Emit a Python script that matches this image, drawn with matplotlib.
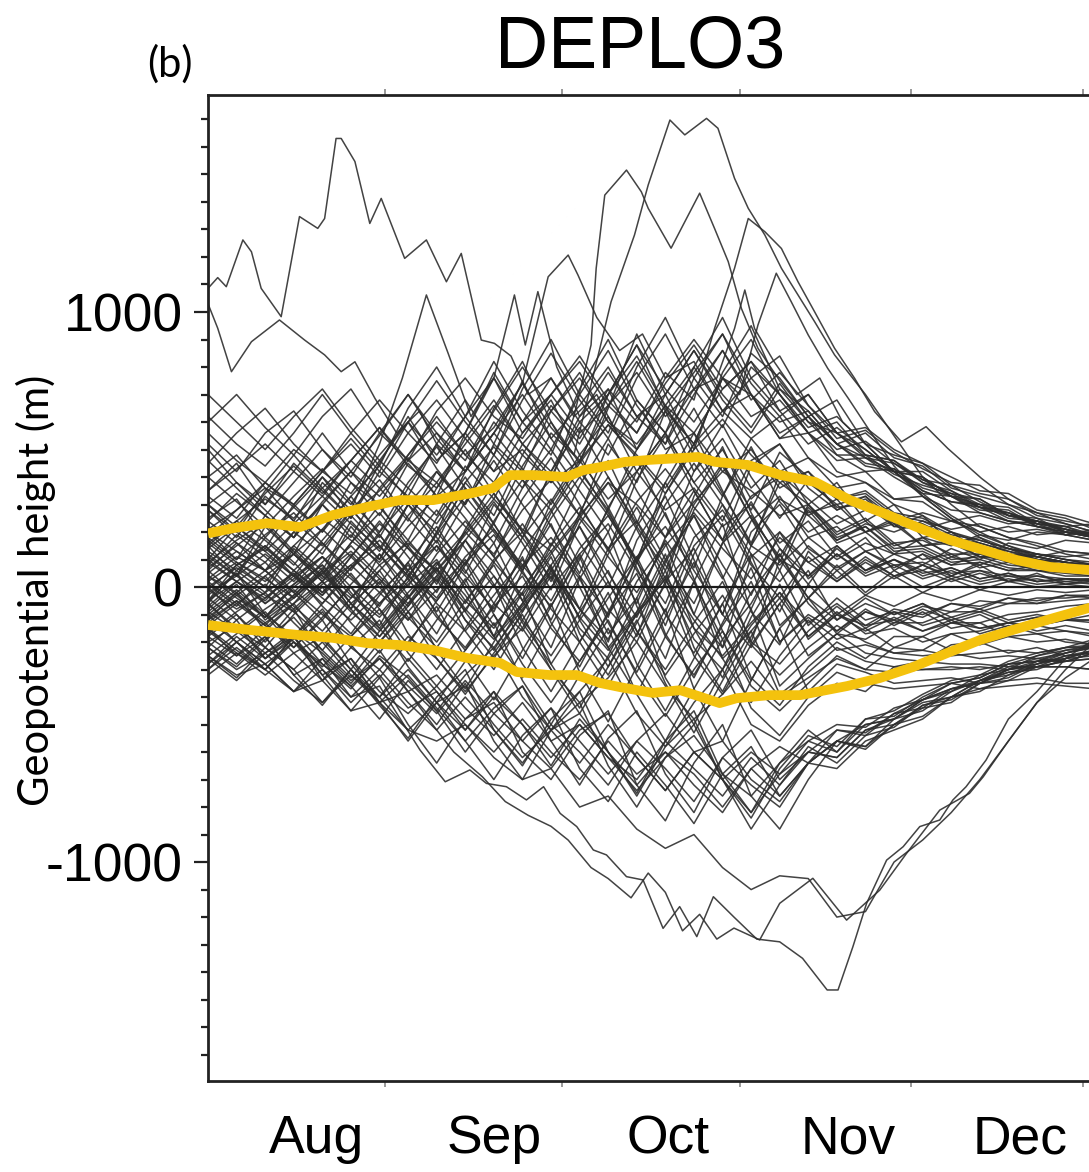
import matplotlib
matplotlib.use("Agg")
import matplotlib.pyplot as plt
from matplotlib.ticker import FixedLocator, NullFormatter

# days counted from 1 July; ensemble members sampled every 5 days
member_days = list(range(0, 161, 5))

members_a = [
    [120, 40, 180, 90, -20, 110, 230, 140, 60, 190, 320, 210, 130, 260, 380, 300, 180, 310, 420, 350, 260, 300, 190, 240, 150, 180, 110, 140, 90, 100, 70, 80, 60],
    [-80, 10, -120, -40, 60, -60, -150, -20, 90, -30, -180, -60, 70, -80, -220, -90, 40, -120, -260, -160, -40, -180, -90, -170, -150, -200, -170, -210, -180, -200, -190, -210, -200],
    [250, 320, 180, 290, 400, 260, 350, 470, 330, 420, 560, 430, 300, 460, 590, 480, 360, 520, 640, 540, 420, 470, 360, 380, 320, 330, 280, 270, 240, 220, 200, 190, 180],
    [-200, -140, -260, -190, -90, -220, -300, -180, -260, -380, -250, -150, -300, -420, -330, -200, -360, -480, -390, -270, -400, -330, -260, -300, -310, -300, -290, -300, -280, -270, -270, -260, -260],
    [30, 110, 60, -40, 50, 150, 40, -60, 80, 200, 90, -30, 120, 250, 110, -20, 150, 270, 140, 30, 180, 90, 20, 100, 40, 60, 20, 50, 20, 30, 10, 20, 10],
    [60, -30, -110, 0, 80, -60, -160, -40, 70, -80, -190, -70, 60, -110, -230, -100, 30, -150, -250, -130, -20, -130, -60, -140, -120, -160, -130, -150, -130, -140, -120, -130, -120],
    [330, 250, 380, 290, 200, 330, 440, 320, 230, 380, 510, 390, 280, 450, 590, 470, 340, 500, 610, 480, 380, 420, 320, 350, 270, 250, 200, 170, 140, 120, 100, 90, 80],
    [-140, -60, 10, -90, -180, -60, 30, -110, -220, -80, 40, -130, -280, -120, 20, -160, -320, -170, -30, -210, -320, -220, -140, -200, -240, -230, -250, -240, -230, -240, -220, -220, -220],
    [200, 130, 60, 150, 250, 170, 90, 220, 330, 220, 120, 280, 390, 260, 140, 310, 430, 290, 170, 330, 400, 270, 300, 200, 230, 150, 170, 110, 120, 90, 80, 70, 60],
    [-30, 50, -60, 30, 110, 0, -100, 20, 150, 10, -140, -20, 160, 30, -170, -40, 170, 20, -190, -60, 120, -40, 80, -20, 60, 0, 40, 10, 30, 10, 20, 10, 10],
    [80, 190, 110, 20, 140, 260, 150, 40, 190, 330, 200, 60, 250, 400, 260, 90, 300, 450, 300, 150, 320, 260, 170, 230, 200, 240, 210, 230, 200, 210, 190, 200, 190],
]

members_b = [
    [-250, -170, -90, -200, -290, -180, -80, -240, -360, -230, -100, -280, -420, -270, -120, -320, -470, -300, -160, -360, -450, -350, -250, -300, -220, -230, -170, -160, -130, -110, -100, -80, -70],
    [170, 90, 20, 120, 210, 110, 10, 150, 280, 140, 0, 180, 320, 160, 0, 220, 380, 200, 30, 240, 330, 180, 220, 130, 160, 100, 120, 70, 90, 60, 60, 50, 40],
    [-110, -30, 40, -70, -160, -40, 60, -90, -200, -50, 80, -120, -250, -90, 60, -160, -300, -130, 20, -200, -280, -160, -70, -150, -90, -110, -60, -80, -40, -60, -30, -40, -30],
    [400, 310, 220, 330, 430, 310, 200, 380, 510, 360, 230, 440, 600, 420, 280, 500, 660, 480, 330, 540, 620, 470, 400, 420, 320, 310, 240, 220, 180, 160, 130, 120, 100],
    [-320, -240, -300, -200, -280, -370, -250, -330, -450, -320, -220, -400, -520, -380, -260, -460, -580, -420, -300, -500, -560, -430, -350, -380, -290, -270, -210, -200, -160, -140, -120, -100, -90],
    [10, -70, 40, 120, 20, -80, 60, 170, 50, -90, 90, 230, 70, -110, 120, 290, 100, -100, 160, 310, 140, 10, 150, 60, 100, 40, 70, 30, 50, 20, 30, 20, 20],
    [90, 170, 240, 130, 30, 160, 270, 140, 20, 200, 340, 180, 30, 250, 400, 220, 60, 300, 450, 250, 110, 290, 180, 220, 140, 150, 100, 110, 80, 70, 60, 50, 40],
    [-60, -150, -220, -100, 0, -130, -240, -90, 30, -160, -300, -120, 40, -200, -360, -170, 10, -250, -390, -210, -60, -250, -170, -190, -130, -130, -90, -90, -60, -60, -50, -40, -30],
    [280, 200, 130, 230, 330, 230, 140, 300, 420, 290, 160, 360, 500, 350, 200, 420, 560, 380, 240, 460, 520, 380, 300, 330, 250, 230, 180, 160, 130, 110, 90, 80, 70],
    [-10, 80, 150, 40, -60, 70, 190, 50, -90, 80, 230, 60, -120, 100, 280, 70, -140, 120, 300, 90, -90, 130, 30, 110, 40, 80, 30, 60, 20, 40, 20, 30, 20],
    [-170, -90, -20, -130, -230, -100, 20, -170, -300, -150, 10, -220, -380, -200, -20, -280, -450, -260, -60, -330, -430, -290, -200, -260, -180, -180, -130, -130, -100, -90, -70, -60, -50],
]

members_c = [
    [140, 220, 130, 40, 170, 290, 150, 30, 200, 360, 210, 60, 270, 430, 270, 100, 340, 520, 340, 160, 380, 300, 200, 250, 160, 170, 120, 120, 90, 80, 70, 60, 50],
    [-40, -120, -40, 50, -70, -170, -30, 90, -100, -230, -60, 110, -130, -290, -90, 100, -170, -330, -130, 70, -200, -110, -190, -150, -220, -180, -230, -200, -240, -220, -250, -240, -250],
    [210, 280, 360, 240, 150, 280, 390, 250, 130, 310, 460, 300, 150, 370, 540, 350, 180, 420, 590, 400, 250, 390, 290, 300, 220, 210, 160, 150, 120, 100, 90, 70, 60],
    [-90, -10, -100, -180, -60, 50, -80, -210, -50, 90, -100, -260, -70, 110, -130, -310, -110, 90, -160, -340, -150, -40, -170, -90, -120, -70, -90, -50, -60, -40, -40, -30, -30],
    [50, 130, 60, -20, 90, 190, 80, -40, 120, 240, 110, -50, 150, 290, 140, -60, 180, 350, 170, -30, 200, 90, 150, 60, 100, 50, 70, 30, 50, 20, 30, 20, 20],
    [-220, -290, -190, -110, -230, -330, -200, -90, -260, -390, -240, -100, -300, -460, -290, -120, -350, -530, -340, -160, -390, -310, -220, -270, -290, -300, -300, -290, -300, -290, -290, -300, -290],
    [100, 20, -50, 60, 160, 40, -70, 90, 220, 60, -90, 130, 280, 80, -110, 170, 330, 100, -100, 200, 300, 140, 70, 130, 80, 90, 50, 60, 40, 40, 30, 30, 20],
    [-130, -50, -140, -220, -110, 0, -150, -270, -120, 30, -180, -330, -140, 40, -220, -390, -180, 20, -260, -420, -250, -120, -230, -210, -240, -250, -240, -260, -250, -260, -270, -260, -270],
    [180, 100, 190, 270, 160, 60, 200, 320, 180, 50, 240, 390, 220, 50, 290, 460, 260, 70, 330, 510, 310, 200, 260, 200, 250, 210, 240, 200, 220, 190, 200, 180, 190],
    [20, -60, -140, -30, 70, -60, -180, -40, 90, -90, -230, -60, 110, -120, -290, -90, 120, -150, -330, -110, 60, -140, -40, -120, -90, -140, -110, -150, -130, -160, -140, -160, -150],
    [300, 380, 280, 180, 310, 420, 290, 170, 360, 500, 340, 200, 420, 580, 400, 230, 480, 650, 450, 280, 490, 400, 320, 340, 260, 240, 190, 170, 140, 120, 100, 80, 70],
]

members_d = [
    [-70, 20, 90, -20, -120, 10, 120, -30, -170, 20, 160, -50, -220, 30, 200, -70, -260, 20, 230, -90, -210, 10, -100, -30, -70, -20, -50, -10, -30, -10, -20, -10, -10],
    [130, 60, 150, 60, -30, 110, 240, 110, -20, 170, 310, 160, -10, 230, 380, 210, 10, 280, 440, 250, 60, 280, 160, 200, 120, 130, 80, 90, 60, 60, 40, 40, 30],
    [-180, -250, -150, -60, -190, -300, -160, -30, -230, -370, -200, -20, -280, -440, -250, -40, -330, -500, -300, -80, -360, -260, -170, -240, -260, -270, -280, -280, -290, -290, -290, -300, -290],
    [0, 70, 0, -80, 20, 120, 0, -120, 40, 170, 10, -150, 60, 220, 20, -180, 90, 260, 40, -200, 100, -40, 60, -30, 40, -20, 30, -10, 20, 0, 10, 0, 0],
    [240, 160, 90, 200, 300, 200, 100, 260, 380, 250, 110, 320, 470, 300, 130, 390, 550, 350, 170, 440, 520, 360, 280, 320, 230, 220, 170, 150, 120, 100, 80, 70, 60],
    [-150, -230, -300, -180, -80, -210, -330, -200, -70, -260, -410, -230, -60, -310, -490, -290, -80, -370, -560, -340, -150, -380, -280, -310, -350, -340, -330, -350, -340, -330, -350, -350, -350],
    [70, 150, 230, 120, 20, 160, 300, 150, 10, 210, 380, 200, 20, 270, 460, 240, 30, 330, 510, 270, 90, 300, 170, 220, 130, 140, 90, 100, 70, 60, 50, 40, 40],
    [-100, -20, -110, -30, 60, -80, -200, -70, 70, -120, -260, -90, 80, -170, -320, -130, 60, -220, -380, -180, 10, -190, -100, -140, -80, -100, -60, -70, -40, -50, -30, -30, -20],
    [160, 240, 170, 80, 210, 330, 190, 60, 250, 400, 230, 70, 310, 480, 290, 90, 380, 560, 350, 150, 410, 320, 230, 280, 240, 270, 240, 260, 230, 240, 220, 230, 220],
    [-280, -200, -130, -240, -340, -220, -120, -290, -420, -270, -130, -340, -500, -320, -150, -390, -560, -370, -190, -440, -540, -400, -310, -350, -370, -360, -350, -370, -360, -350, -360, -370, -360],
    [40, -40, -110, 10, 110, -20, -140, 40, 170, -10, -180, 60, 230, 0, -200, 90, 270, 30, -220, 110, 200, 30, 120, 40, 80, 30, 60, 20, 40, 20, 30, 20, 10],
]

members_wide = [
    [350, 450, 300, 420, 560, 420, 550, 700, 540, 420, 650, 820, 600, 450, 700, 880, 650, 520, 760, 900, 700, 560, 600, 480, 460, 390, 340, 320, 260, 240, 210, 180, 170],
    [-250, -330, -220, -300, -420, -300, -430, -550, -400, -300, -520, -650, -480, -380, -600, -750, -560, -450, -680, -820, -640, -520, -600, -480, -470, -400, -350, -330, -280, -250, -220, -210, -190],
    [500, 380, 300, 450, 350, 250, 420, 600, 430, 300, 520, 750, 540, 400, 650, 920, 700, 500, 780, 950, 720, 600, 560, 500, 420, 400, 330, 290, 280, 220, 200, 180, 160],
    [-100, -200, -300, -180, -320, -450, -330, -500, -640, -480, -380, -600, -700, -540, -450, -720, -850, -640, -500, -760, -880, -700, -560, -580, -480, -450, -380, -340, -320, -270, -240, -220, -200],
    [620, 520, 440, 560, 700, 560, 440, 650, 800, 620, 480, 720, 900, 700, 560, 800, 980, 760, 620, 850, 760, 620, 520, 470, 450, 380, 350, 290, 270, 240, 210, 190, 180],
    [0, -100, -200, -80, -250, -350, -230, -380, -500, -350, -560, -700, -520, -420, -650, -800, -620, -500, -700, -880, -720, -580, -640, -540, -510, -430, -400, -340, -300, -280, -240, -220, -210],
    [300, 200, 350, 480, 360, 250, 450, 620, 460, 560, 780, 600, 480, 720, 900, 680, 560, 800, 980, 760, 640, 700, 560, 470, 420, 400, 330, 300, 270, 230, 220, 190, 170],
    [-300, -200, -280, -380, -260, -360, -480, -340, -450, -600, -460, -360, -560, -720, -550, -450, -680, -820, -620, -520, -700, -600, -520, -530, -460, -410, -380, -320, -300, -250, -230, -210, -190],
    [450, 560, 650, 520, 420, 560, 680, 560, 450, 620, 820, 640, 500, 700, 860, 660, 520, 760, 920, 700, 540, 620, 520, 440, 420, 350, 310, 290, 240, 220, 190, 170, 160],
    [-50, 50, -100, -220, -120, -280, -400, -260, -380, -520, -380, -500, -650, -480, -600, -760, -580, -480, -700, -840, -660, -540, -580, -480, -450, -390, -340, -320, -270, -240, -220, -190, -180],
    [700, 600, 500, 620, 720, 580, 460, 600, 750, 600, 480, 680, 850, 680, 540, 760, 920, 720, 580, 800, 700, 560, 480, 480, 410, 370, 340, 290, 260, 240, 200, 180, 170],
    [-200, -280, -180, -320, -430, -300, -420, -560, -420, -560, -700, -540, -440, -660, -780, -600, -720, -860, -680, -580, -760, -640, -560, -500, -480, -410, -370, -340, -290, -260, -240, -210, -200],
]

members_high = [
    [400, 480, 360, 300, 420, 540, 420, 330, 520, 680, 520, 420, 640, 780, 600, 500, 700, 860, 680, 560, 720, 640, 520, 560, 470, 440, 360, 330, 300, 250, 230, 200, 180],
    [520, 420, 560, 640, 500, 400, 560, 700, 560, 460, 640, 800, 640, 520, 700, 880, 720, 600, 760, 700, 560, 620, 480, 420, 430, 350, 310, 300, 250, 240, 200, 200, 190],
    [180, 280, 380, 300, 420, 520, 400, 560, 680, 540, 420, 600, 760, 600, 700, 840, 660, 560, 720, 820, 640, 520, 580, 500, 420, 420, 350, 300, 290, 230, 210, 190, 170],
    [600, 700, 580, 480, 620, 720, 560, 460, 640, 760, 620, 540, 700, 820, 660, 560, 760, 900, 760, 620, 680, 560, 460, 470, 400, 340, 330, 270, 240, 230, 190, 170, 150],
    [300, 220, 340, 440, 340, 460, 580, 440, 360, 540, 680, 520, 420, 620, 780, 620, 700, 860, 700, 580, 740, 600, 500, 530, 450, 390, 370, 310, 260, 250, 200, 180, 160],
    [460, 360, 260, 380, 500, 380, 300, 480, 620, 480, 580, 740, 580, 460, 660, 820, 640, 780, 920, 740, 620, 700, 560, 480, 460, 380, 330, 320, 260, 230, 220, 180, 170],
    [240, 340, 260, 180, 300, 420, 330, 460, 560, 420, 560, 700, 540, 660, 800, 620, 520, 700, 860, 680, 780, 660, 540, 570, 490, 430, 380, 370, 300, 270, 250, 210, 190],
    [560, 460, 380, 500, 420, 340, 480, 600, 480, 620, 760, 600, 700, 840, 680, 560, 740, 880, 720, 820, 700, 580, 620, 520, 480, 450, 370, 340, 320, 260, 240, 220, 200],
    [350, 430, 520, 420, 330, 460, 580, 460, 380, 520, 660, 520, 640, 760, 600, 520, 660, 800, 640, 760, 840, 660, 560, 580, 500, 450, 400, 350, 340, 280, 260, 230, 210],
    [150, 240, 320, 250, 360, 460, 360, 480, 600, 480, 380, 560, 700, 560, 660, 780, 620, 720, 860, 700, 600, 640, 520, 450, 430, 360, 330, 280, 270, 220, 210, 180, 170],
]

members_low = [
    [-260, -340, -240, -180, -300, -400, -300, -420, -520, -400, -520, -640, -500, -600, -720, -560, -660, -780, -620, -720, -800, -640, -560, -590, -500, -470, -400, -380, -320, -290, -270, -240, -230],
    [-180, -100, -220, -300, -200, -320, -420, -320, -440, -560, -440, -360, -520, -640, -500, -620, -740, -600, -700, -820, -680, -600, -620, -520, -500, -430, -410, -350, -310, -300, -260, -250, -240],
    [-300, -220, -300, -380, -300, -420, -320, -440, -380, -500, -600, -480, -600, -700, -560, -680, -600, -720, -820, -660, -760, -640, -560, -580, -500, -440, -420, -350, -330, -280, -260, -230, -220],
    [-120, -200, -280, -200, -320, -260, -380, -460, -360, -480, -420, -560, -660, -520, -460, -620, -740, -600, -560, -700, -780, -640, -660, -560, -520, -480, -400, -370, -340, -290, -270, -240, -230],
    [-220, -300, -240, -340, -420, -320, -400, -520, -420, -360, -500, -620, -520, -460, -600, -720, -600, -680, -800, -660, -580, -640, -520, -540, -460, -440, -370, -350, -300, -280, -250, -240, -220],
    [-60, -160, -240, -160, -280, -360, -260, -380, -320, -440, -540, -420, -560, -500, -620, -700, -560, -660, -760, -620, -720, -600, -620, -520, -480, -420, -400, -340, -310, -290, -250, -230, -220],
    [-280, -180, -260, -160, -240, -340, -260, -360, -460, -340, -460, -560, -440, -560, -680, -560, -460, -600, -700, -600, -680, -560, -500, -510, -440, -410, -350, -330, -280, -270, -230, -220, -200],
    [-160, -240, -320, -240, -180, -300, -400, -300, -420, -520, -400, -500, -620, -500, -620, -740, -620, -540, -680, -760, -640, -560, -600, -500, -480, -410, -370, -350, -300, -270, -260, -230, -220],
]

members_core = [
    [40, -20, 60, 120, 40, -40, 80, 160, 60, -60, 100, 200, 60, -80, 140, 240, 80, -60, 160, 260, 100, 40, 140, 60, 120, 80, 140, 100, 160, 140, 170, 160, 150],
    [-20, 40, -30, -90, 10, 80, -20, -120, -10, 100, -60, -160, 0, 120, -80, -200, 20, 140, -100, -220, -60, 60, -120, -40, -100, -60, -130, -100, -150, -140, -160, -170, -170],
    [90, 20, -40, 40, 110, 30, -60, 60, 150, 40, -80, 80, 180, 40, -100, 110, 220, 60, -100, 150, 80, 180, 100, 160, 120, 180, 150, 190, 170, 200, 190, 210, 200],
    [-50, 20, -60, 10, 80, -30, -110, 10, 100, -50, -150, 0, 130, -80, -190, 20, 160, -100, -220, -20, 120, -60, -160, -80, -140, -90, -150, -130, -180, -170, -200, -210, -210],
    [160, 80, 140, 60, -20, 80, 170, 60, -40, 110, 210, 80, -50, 140, 260, 90, -60, 180, 280, 120, 20, 150, 60, 130, 70, 120, 80, 120, 100, 120, 110, 120, 110],
    [-120, -50, -130, -60, 20, -90, -180, -60, 40, -120, -220, -80, 50, -150, -260, -100, 30, -190, -300, -140, -20, -180, -100, -160, -110, -160, -120, -170, -140, -170, -160, -180, -180],
    [20, 90, 30, -40, 50, 130, 30, -70, 60, 170, 40, -90, 80, 220, 50, -110, 100, 260, 80, -80, 140, 40, 120, 50, 100, 60, 110, 80, 120, 110, 130, 120, 120],
    [-10, -80, -20, 50, -40, -120, -20, 80, -60, -160, -30, 100, -80, -200, -40, 110, -100, -240, -60, 120, -140, -40, -120, -60, -100, -60, -110, -80, -120, -100, -120, -120, -110],
    [110, 40, 120, 40, -30, 70, 150, 40, -50, 90, 190, 50, -70, 120, 230, 60, -90, 150, 260, 80, -40, 110, 20, 90, 30, 80, 40, 90, 60, 80, 70, 80, 80],
    [-90, -160, -80, -10, -100, -180, -60, 30, -110, -220, -70, 40, -150, -270, -100, 50, -180, -320, -140, 20, -200, -100, -160, -90, -130, -80, -120, -90, -130, -110, -120, -120, -110],
]

# members that stand out from the bundle, with their own day sampling
aug_peak_days = [0, 1.7, 3.2, 6.1, 7.6, 9.3, 12.8, 16, 19.2, 20.4, 22.4, 23.3, 25.7, 28.3, 30.3, 34.4, 38.2, 41.7, 44.3, 47.8, 50.1, 53, 56, 60, 64, 68, 72, 76, 80, 85, 90, 95, 100, 105, 110, 115, 120, 125, 130, 135, 140, 145, 150, 155, 160]
aug_peak_vals = [1086, 1125, 1092, 1262, 1219, 1086, 983, 1347, 1304, 1340, 1631, 1631, 1547, 1322, 1413, 1195, 1262, 1110, 1213, 898, 886, 840, 700, 760, 620, 700, 540, 640, 500, 560, 420, 500, 360, 420, 280, 330, 220, 260, 160, 180, 120, 110, 90, 70, 60]

jul_high_days = [0, 1.7, 4.1, 7.6, 12.5, 16.9, 20.4, 23.3, 25.7, 29.2, 33, 37, 41, 45, 50, 55, 60, 65, 70, 75, 80, 85, 90, 95, 100, 105, 110, 115, 120, 125, 130, 135, 140, 145, 150, 155, 160]
jul_high_vals = [1030, 941, 783, 892, 971, 898, 844, 783, 819, 686, 560, 640, 480, 560, 420, 500, 380, 460, 320, 420, 280, 360, 220, 300, 160, 240, 110, 180, 60, 120, 40, 80, 20, 50, 10, 30, 20]

oct_peak_days = [0, 5, 10, 15, 20, 25, 30, 35, 40, 45, 50, 55, 60, 64, 67, 70.5, 74.6, 77, 80.8, 83.4, 87.2, 89.2, 92.1, 94.5, 97.4, 100.3, 103.2, 106.1, 109.6, 115, 120, 125, 130, 135, 140, 145, 150, 155, 160]
oct_peak_vals = [150, 40, 220, 120, 300, 180, 360, 240, 420, 300, 480, 360, 560, 480, 735, 1037, 1280, 1462, 1698, 1644, 1704, 1668, 1486, 1377, 1280, 1159, 1062, 965, 844, 700, 550, 400, 300, 220, 180, 150, 120, 100, 90]

early_oct_days = [0, 5, 10, 15, 20, 25, 30, 35, 40, 45, 50, 55, 60, 64, 67, 67.9, 69.4, 73.2, 75.8, 77, 81, 86, 88.6, 91, 93.3, 96.2, 100, 105, 110, 115, 120, 125, 130, 135, 140, 145, 150, 155, 160]
early_oct_vals = [-60, 60, -20, 140, 40, 220, 100, 300, 160, 380, 260, 480, 380, 620, 880, 1159, 1425, 1516, 1437, 1377, 1232, 1432, 1304, 1183, 1013, 868, 750, 620, 680, 520, 420, 330, 250, 190, 150, 110, 90, 70, 60]

mid_oct_days = [0, 5, 10, 15, 20, 25, 30, 35, 40, 45, 50, 55, 60, 65, 70, 75, 80, 85, 88.6, 92.1, 94.5, 97.4, 100.3, 103.2, 106.1, 109.6, 113.1, 116.6, 121.3, 125.6, 129.4, 135.3, 140, 145, 150, 155, 160]
mid_oct_vals = [280, 180, 330, 240, 400, 300, 460, 360, 520, 420, 600, 480, 660, 540, 720, 600, 780, 680, 940, 1159, 1340, 1292, 1231, 1110, 1001, 868, 759, 638, 528, 583, 504, 395, 320, 270, 230, 200, 180]

late_oct_days = [0, 5, 10, 15, 20, 25, 30, 35, 40, 45, 50, 55, 60, 65, 70, 75, 80, 85, 90, 93, 96.2, 99.4, 102, 105, 108.4, 112, 116, 120, 125, 130, 135, 140, 145, 150, 155, 160]
late_oct_vals = [-120, -20, -160, -60, 60, -80, 120, 0, 200, 80, 300, 180, 420, 260, 520, 380, 640, 520, 760, 700, 953, 1141, 1038, 916, 795, 686, 560, 440, 330, 250, 180, 140, 110, 90, 80, 70]

oct_spike_days = [0, 5, 10, 15, 20, 25, 30, 35, 40, 45, 50, 55, 60, 65, 70, 75, 80, 85, 89, 92.1, 93.9, 95.6, 99, 103, 107, 111, 115, 120, 125, 130, 135, 140, 145, 150, 155, 160]
oct_spike_vals = [60, 160, 60, 200, 120, 280, 180, 360, 260, 440, 320, 520, 400, 600, 480, 680, 560, 720, 760, 940, 1080, 940, 820, 700, 760, 600, 520, 420, 340, 260, 200, 150, 120, 100, 80, 70]

sep_peak_days = [0, 5, 10, 15, 20, 25, 30, 35, 40, 45, 50, 53.6, 55.5, 57.7, 61, 65, 70, 75, 80, 85, 90, 95, 100, 105, 110, 115, 120, 125, 130, 135, 140, 145, 150, 155, 160]
sep_peak_vals = [100, 220, 140, 300, 200, 380, 260, 450, 330, 560, 760, 1062, 880, 1074, 800, 620, 720, 500, 640, 420, 540, 360, 460, 300, 380, 240, 300, 180, 200, 130, 140, 100, 90, 70, 60]

sep_late_days = [0, 5, 10, 15, 20, 25, 30, 35, 40, 45, 50, 55, 59.5, 63, 64.7, 68, 72, 76, 80, 85, 90, 95, 100, 105, 110, 115, 120, 125, 130, 135, 140, 145, 150, 155, 160]
sep_late_vals = [-50, 80, 0, 150, 60, 240, 130, 300, 200, 420, 560, 740, 1128, 1207, 1135, 980, 860, 920, 760, 820, 640, 700, 540, 560, 420, 380, 300, 260, 200, 160, 130, 100, 80, 60, 50]

aug_late_days = [0, 5, 10, 15, 20, 25, 30, 34, 38.2, 42, 46, 50, 55, 60, 65, 70, 75, 80, 85, 90, 95, 100, 105, 110, 115, 120, 125, 130, 135, 140, 145, 150, 155, 160]
aug_late_vals = [200, 100, 260, 180, 380, 280, 520, 760, 1062, 850, 620, 760, 560, 680, 480, 620, 420, 560, 380, 500, 320, 420, 260, 320, 200, 240, 150, 160, 110, 100, 80, 70, 60, 50]

low_sep_days = [0, 5, 10, 15, 20, 25, 30, 37.1, 41.5, 45.8, 48.7, 52.2, 55.7, 58.7, 61.6, 64.5, 67.4, 69.7, 73.2, 76.1, 79.6, 82.5, 85.5, 88.4, 92, 96, 100, 104, 108.3, 110.2, 112.8, 115.2, 118.7, 121.6, 124.5, 128, 130.3, 132.6, 136.1, 140, 145, 150, 155, 160]
low_sep_vals = [-150, -250, -180, -320, -260, -400, -360, -593, -708, -665, -714, -726, -774, -726, -823, -871, -956, -974, -1053, -1065, -1241, -1162, -1271, -1126, -1200, -1280, -1290, -1350, -1465, -1465, -1308, -1150, -993, -944, -871, -847, -774, -726, -629, -480, -380, -260, -190, -130]

low_oct_days = [0, 5, 10, 15, 20, 25, 30, 35, 40, 43, 48, 52, 56, 60, 63, 67, 70, 74, 77, 80, 83, 86, 89, 92, 96.5, 100, 105.8, 111.7, 117.5, 122.2, 128, 133.2, 135.6, 140, 145, 150, 155, 160]
low_oct_vals = [-220, -120, -260, -180, -340, -260, -420, -380, -520, -600, -690, -780, -830, -870, -920, -1020, -1060, -1130, -1040, -1110, -1250, -1190, -1280, -1240, -1283, -1150, -1059, -1211, -1102, -968, -811, -750, -690, -560, -420, -300, -200, -150]

low_nov_days = [0, 5, 10, 15, 20, 25, 30, 35, 40, 45, 50, 55, 60, 65, 70, 75, 80, 85, 90, 95, 100, 105, 110, 115, 120, 125, 130, 135, 140, 145, 150, 155, 160]
low_nov_vals = [-250, -320, -280, -380, -340, -450, -420, -520, -560, -500, -620, -700, -660, -800, -760, -880, -950, -900, -1020, -1100, -1050, -1060, -1200, -1180, -1000, -920, -820, -700, -560, -420, -330, -260, -200]

# +/- spread envelope of the ensemble
upper_days = [0, 4.4, 10.3, 16.1, 21.9, 27.8, 33.6, 39.4, 46.3, 49.9, 52.8, 56.8, 62.8, 65.6, 68.6, 72.9, 77, 82.7, 85.7, 88.7, 94.4, 100.2, 106.2, 112.3, 118.1, 124, 129.8, 135.6, 141.5, 147.3, 154.1, 160]
upper_vals = [195, 214, 232, 218, 262, 291, 316, 316, 342, 360, 407, 407, 400, 425, 436, 455, 462, 469, 473, 455, 444, 407, 382, 316, 269, 218, 171, 135, 98, 73, 62, 50]

lower_days = [0, 7.3, 16.1, 21.9, 27.8, 33.6, 39.4, 45.3, 51.1, 54, 59.8, 64.5, 68.6, 72.1, 77.8, 82.6, 89.5, 92.5, 98.3, 103.6, 111.8, 117.5, 123.3, 129.3, 135, 140.8, 146.7, 154.1, 160]
lower_vals = [-138, -156, -175, -185, -204, -211, -229, -258, -276, -309, -320, -320, -349, -364, -385, -375, -422, -404, -393, -393, -360, -331, -291, -240, -193, -156, -120, -76, -50]

month_ticks = [31, 62, 93, 123, 153]
month_label_pos = [19, 50, 80.5, 112, 142]
month_names = ["Aug", "Sep", "Oct", "Nov", "Dec"]

W, H = 1089, 1172
fig = plt.figure(figsize=(W / 100, H / 100), dpi=100)
px_per_day = 5.717
ax = fig.add_axes([208 / W, 1 - 1081 / H, 160 * px_per_day / W, (1081 - 95) / H])

line_kw = dict(color="#2e2e2e", lw=1.1, alpha=0.9, solid_joinstyle="round")
groups = (members_a, members_b, members_c, members_d, members_wide,
          members_high, members_low, members_core)
for group in groups:
    for vals in group:
        ax.plot(member_days, vals, **line_kw)

special = [
    (aug_peak_days, aug_peak_vals), (jul_high_days, jul_high_vals),
    (oct_peak_days, oct_peak_vals), (early_oct_days, early_oct_vals),
    (mid_oct_days, mid_oct_vals), (late_oct_days, late_oct_vals),
    (oct_spike_days, oct_spike_vals), (sep_peak_days, sep_peak_vals),
    (sep_late_days, sep_late_vals), (aug_late_days, aug_late_vals),
    (low_sep_days, low_sep_vals), (low_oct_days, low_oct_vals),
    (low_nov_days, low_nov_vals),
]
for d, v in special:
    ax.plot(d, v, **line_kw)

ax.axhline(0, color="#1a1a1a", lw=1.6, zorder=3)

yellow = "#F4C20D"
ax.plot(upper_days, upper_vals, color=yellow, lw=7, solid_capstyle="butt", zorder=4)
ax.plot(lower_days, lower_vals, color=yellow, lw=7, solid_capstyle="butt", zorder=4)

ax.set_xlim(0, 160)
ax.set_ylim(-1796, 1789)

for side in ("left", "bottom", "top"):
    ax.spines[side].set_linewidth(2.0)
    ax.spines[side].set_color("#222222")
ax.spines["right"].set_visible(False)

tick_font = dict(family="Liberation Sans", size=38.5)

ax.set_yticks([-1000, 0, 1000])
ax.set_yticklabels(["-1000", "0", "1000"], fontdict=tick_font)
ax.yaxis.set_minor_locator(FixedLocator([v for v in range(-1700, 1800, 100) if v % 1000]))
ax.tick_params(axis="y", which="major", direction="out", length=10, width=1.6,
               color="#222222", pad=8)
ax.tick_params(axis="y", which="minor", direction="out", length=5, width=1.6,
               color="#222222")

# month boundaries carry tick marks, month names sit on unmarked minor ticks
ax.set_xticks(month_ticks)
ax.xaxis.set_major_formatter(NullFormatter())
ax.xaxis.set_minor_locator(FixedLocator(month_label_pos))
ax.set_xticklabels(month_names, minor=True, fontdict=tick_font)
ax.tick_params(axis="x", which="major", direction="out", length=4, width=1.2,
               color="#888888", top=True)
ax.tick_params(axis="x", which="minor", length=0, pad=24)

fig.text(640 / W, 1 - 48 / H, "DEPLO3", ha="center", va="center",
         family="Liberation Sans", fontsize=53)
fig.text(170 / W, 1 - 64 / H, "(b)", ha="center", va="center",
         family="Lato", fontsize=30)
fig.text(36 / W, 1 - 590 / H, "Geopotential height (m)", ha="center", va="center",
         rotation=90, family="Lato", fontsize=30)

fig.savefig("out.png", dpi=100)
